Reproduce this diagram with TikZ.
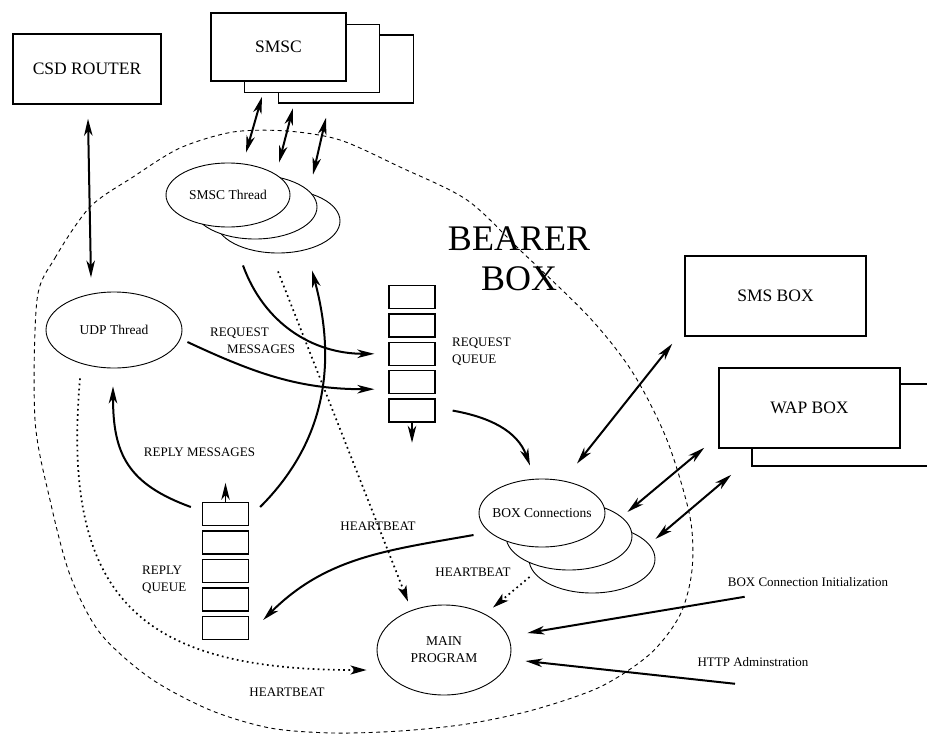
\documentclass[tikz,border=0pt]{standalone}
\usepackage{fontspec}
\setmainfont{Liberation Serif}
\usetikzlibrary{arrows.meta, shapes.geometric, calc}

\begin{document}
\begin{tikzpicture}[x=1pt, y=-1pt,
        outbox/.style={rectangle, draw, line width=1.5pt, fill=white, minimum width=135pt,
                  minimum height=68pt, font=\fontsize{17.5}{20}\selectfont},
        thr/.style={ellipse, draw, line width=0.9pt, fill=white, inner sep=0pt,
                  minimum width=124pt, minimum height=64pt, font=\fontsize{13.5}{17}\selectfont},
        qbox/.style={rectangle, draw, line width=1.3pt, minimum width=46pt,
                  minimum height=23pt, inner sep=0pt},
        lbl/.style={font=\fontsize{13}{16.5}\selectfont, inner sep=0pt},
        arr/.style={-{Stealth[length=17pt,width=8.5pt,inset=5pt]}, line width=2pt},
        dbl/.style={{Stealth[length=17pt,width=8.5pt,inset=5pt]}-{Stealth[length=17pt,width=8.5pt,inset=5pt]}, line width=2pt},
        hb/.style={-{Stealth[length=16pt,width=9pt,inset=4pt]}, line width=1.7pt, dash pattern=on 1.7pt off 3.4pt}]
      \useasboundingbox (0,0) rectangle (927,734);

      % bearer box outline
      \draw[line width=0.9pt, dash pattern=on 4pt off 3.5pt] plot[smooth cycle] coordinates {
        (37,300) (55,258) (90,207) (133,177) (180,148) (233,132) (287,131) (340,140)
        (400,167) (467,200) (520,250) (590,318) (633,373) (667,440) (690,517) (692,570)
        (680,615) (650,654) (600,687) (533,710) (467,724) (400,731) (333,733) (270,728)
        (210,710) (150,678) (100,633) (70,575) (50,500) (35,420)};
      \node[font=\fontsize{36}{40}\selectfont, align=center, inner sep=0pt] (bearer) at (519,259) {BEARER\\BOX};

      % outside boxes
      \node[outbox, minimum width=148pt, minimum height=70pt] (csd) at (87,69) {CSD ROUTER};
      \node[outbox] (smsc3) at (346,69) {};
      \node[outbox] (smsc2) at (312,58.5) {};
      \node[outbox] (smsc1) at (278.5,47) {SMSC};
      \node[outbox, minimum width=181pt, minimum height=80pt] (sms) at (775.5,296) {SMS BOX};
      \begin{scope}
        \clip (0,0) rectangle (927,734);
        \node[outbox, minimum width=181pt, minimum height=82pt] (wap2) at (842.5,425) {};
      \end{scope}
      \node[outbox, minimum width=181pt, minimum height=80pt] (wap) at (809.5,408) {WAP BOX};

      % threads
      \node[thr] (smscth3) at (278,221) {};
      \node[thr] (smscth2) at (255,207) {};
      \node[thr] (smscth) at (228,195) {SMSC Thread};
      \node[thr, minimum width=136pt, minimum height=76pt] (udp) at (114,330) {UDP Thread};
      \node[thr, minimum width=126pt, minimum height=68pt] (boxconn3) at (592,559) {};
      \node[thr, minimum width=126pt, minimum height=68pt] (boxconn2) at (569,536) {};
      \node[thr, minimum width=126pt, minimum height=68pt, inner xsep=-14pt] (boxconn) at (542,513) {BOX Connections};
      \node[thr, minimum width=134pt, minimum height=90pt, align=center] (mainp) at (444,650) {MAIN\\PROGRAM};

      % queues
      \foreach \i in {1,...,5}
        \node[qbox] (rq\i) at (412,268.6+28.4*\i) {};
      \foreach \i in {1,...,5}
        \node[qbox] (rp\i) at (225.5,485.5+28.5*\i) {};
      \draw[arr, line width=1.3pt] (rq5.south) -- ++(0,20);
      \draw[arr, line width=1.3pt] (rp1.north) -- ++(0,-19);

      % labels
      \node[lbl, align=left, anchor=west] (reqmsg) at (210,341) {REQUEST\\\hspace*{17pt}MESSAGES};
      \node[lbl] (repmsg) at (199.5,452) {REPLY MESSAGES};
      \node[lbl, align=left, anchor=west] (reqq) at (452,351.5) {REQUEST\\QUEUE};
      \node[lbl, align=left, anchor=west] (repq) at (142,580) {REPLY\\QUEUE};
      \node[lbl] (hb1) at (378,526) {HEARTBEAT};
      \node[lbl] (hb2) at (473,572) {HEARTBEAT};
      \node[lbl] (hb3) at (287,692) {HEARTBEAT};
      \node[lbl] (binit) at (808,582) {BOX Connection Initialization};
      \node[lbl] (http) at (753,662) {HTTP Adminstration};

      % links to the outside
      \draw[dbl] ($(csd.south)+(1,14)$) -- ($(udp.north)+(-23,-14)$);
      \draw[dbl] ($(smsc1.south)+(-16.5,15)$) -- ($(smscth.north)+(18,-10)$);
      \draw[dbl] ($(smsc2.south)+(-19,15)$) -- ($(smscth2.north)+(24,-12)$);
      \draw[dbl] ($(smsc3.south)+(-20,14)$) -- ($(smscth3.north)+(35,-14)$);
      \draw[dbl] ($(sms.south west)+(-12,7)$) -- ($(boxconn.north)+(35,-15)$);
      \draw[dbl] ($(wap.south west)+(-14,-1)$) -- ($(boxconn2.east)+(-5,-24)$);
      \draw[dbl] ($(wap2.south west)+(-20,8)$) -- ($(boxconn3.east)+(0,-20)$);

      % messages
      \draw[arr] ($(smscth3.south)+(-35,12)$) to[out=-70, in=180] ($(rq3.west)+(-14,0)$);
      \draw[arr] ($(udp.east)+(5,12)$) to[out=-25, in=180] ($(rq4.west)+(-14,7)$);
      \draw[arr] ($(rp1.west)+(-11,-7)$) to[out=160, in=-90, looseness=1.2] ($(udp.south)+(-1,18)$);
      \draw[arr] ($(rp1.east)+(11,-7)$) to[out=45, in=-75] ($(smscth3.south)+(34,17)$);
      \draw[arr] ($(rq5.east)+(17,0)$) to[out=-10, in=110] ($(boxconn.north)+(-12,-13)$);
      \draw[arr] ($(boxconn.west)+(-5,22)$) to[out=190, in=45] ($(rp5.east)+(14,-8)$);

      % heartbeats
      \draw[hb] ($(smscth3.south)+(0,18)$) -- ($(mainp.north)+(-36,-3)$);
      \draw[hb] ($(boxconn3.west)+(1,18)$) -- ($(mainp.north)+(49,3)$);
      \draw[hb] ($(udp.south)+(-34,10)$) to[out=-95, in=180, looseness=1.4] ($(mainp.west)+(-10,20)$);

      % control input
      \draw[arr] ($(binit.south west)+(17,10)$) -- ($(mainp.east)+(16,-17)$);
      \draw[arr] ($(http.south)+(-18,17)$) -- ($(mainp.east)+(14,11)$);
    \end{tikzpicture}
\end{document}
